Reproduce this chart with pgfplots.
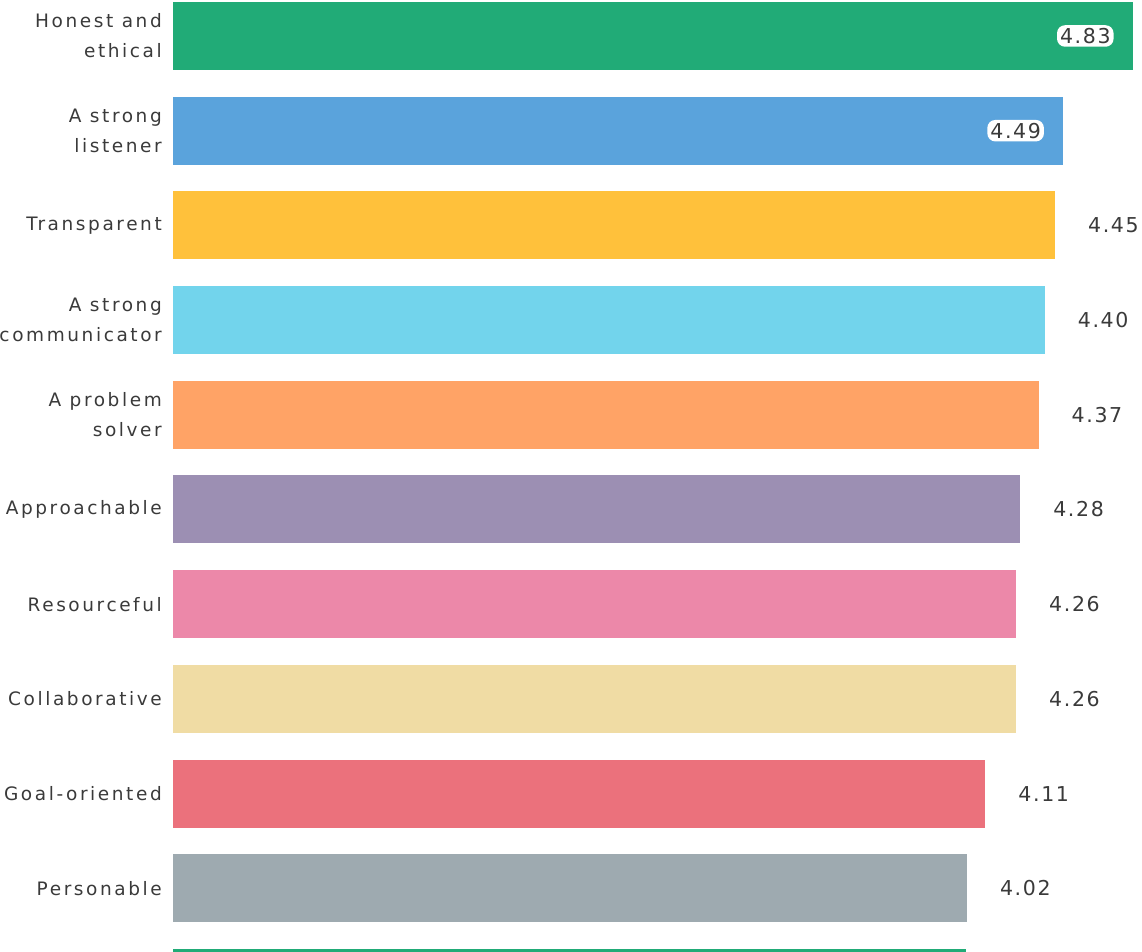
\documentclass[border=0pt]{standalone}
\usepackage{fontspec}
\setmainfont{DejaVu Sans}
\newfontfamily\labfont[LetterSpace=14]{DejaVu Sans}
\newfontfamily\valfont[LetterSpace=8]{DejaVu Sans}
\usepackage{pgfplots}
\pgfplotsset{compat=1.18}
\definecolor{cA}{HTML}{21AB77}
\definecolor{cB}{HTML}{5AA3DC}
\definecolor{cC}{HTML}{FFC13B}
\definecolor{cD}{HTML}{72D4EC}
\definecolor{cE}{HTML}{FFA366}
\definecolor{cF}{HTML}{9C8FB3}
\definecolor{cG}{HTML}{EC88A9}
\definecolor{cH}{HTML}{F0DCA4}
\definecolor{cI}{HTML}{EB717C}
\definecolor{cJ}{HTML}{9EAAB0}
\definecolor{txt}{HTML}{3A3A3A}
\begin{document}
\begin{tikzpicture}
\begin{axis}[
  name=ax,
  width=969pt, height=952pt, scale only axis,
  xmin=0.146, xmax=4.875, ymin=-0.380, ymax=9.673,
  y dir=reverse,
  xbar, bar shift=0pt, bar width=68pt,
  axis line style={draw=none},
  xtick=\empty,
  ytick={0,...,9},
  yticklabels={{Honest and\\ethical},{A strong\\listener},Transparent,{A strong\\communicator},{A problem\\solver},Approachable,Resourceful,Collaborative,Goal-oriented,Personable},
  major tick length=0pt,
  yticklabel style={align=right, font=\labfont\fontsize{18.5}{30}\selectfont, text=txt, inner sep=0pt, xshift=-11pt},
  nodes near coords={\pgfmathprintnumber[fixed,fixed zerofill,precision=2]{\pgfplotspointmeta}},
  point meta=explicit,
  /pgf/number format/assume math mode=true,
  nodes near coords style={font=\valfont\fontsize{20.5}{24}\selectfont, text=txt, anchor=west, inner sep=0pt, xshift=33pt},
  every axis plot/.append style={draw=none},
]
\addplot[fill=cA, nodes near coords style={anchor=east, xshift=-52pt, fill=white, rounded corners=8pt, inner sep=3pt}] coordinates {(4.83,0) [4.83]};
\addplot[fill=cB, nodes near coords style={anchor=east, xshift=-52pt, fill=white, rounded corners=8pt, inner sep=3pt}] coordinates {(4.49,1) [4.49]};
\addplot[fill=cC] coordinates {(4.45,2) [4.45]};
\addplot[fill=cD] coordinates {(4.40,3) [4.40]};
\addplot[fill=cE] coordinates {(4.37,4) [4.37]};
\addplot[fill=cF] coordinates {(4.28,5) [4.28]};
\addplot[fill=cG] coordinates {(4.26,6) [4.26]};
\addplot[fill=cH] coordinates {(4.26,7) [4.26]};
\addplot[fill=cI] coordinates {(4.11,8) [4.11]};
\addplot[fill=cJ] coordinates {(4.02,9) [4.02]};
\addplot[fill=cA, nodes near coords={}] coordinates {(4.015,10) [4.015]};
\end{axis}
\pgfresetboundingbox
\useasboundingbox ([xshift=-173pt]ax.south west) rectangle (ax.north east);
\end{tikzpicture}
\end{document}
